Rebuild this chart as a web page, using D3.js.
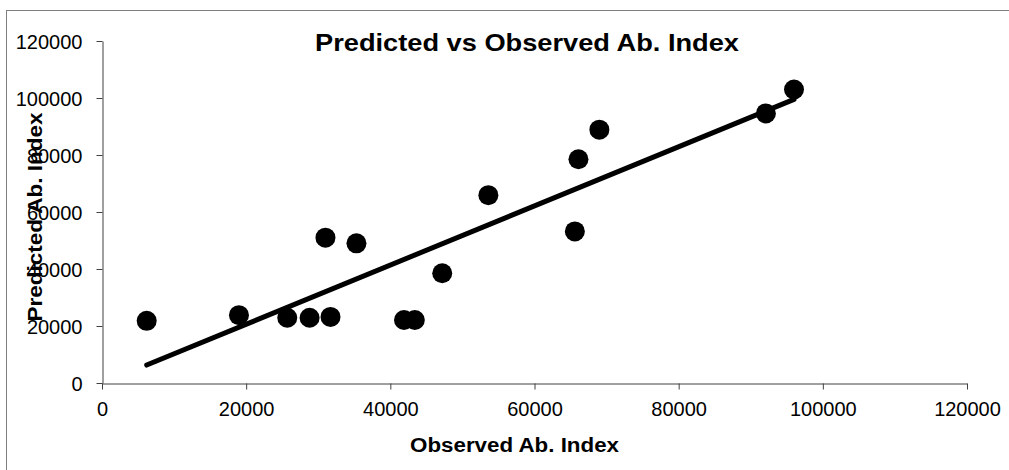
<!DOCTYPE html>
<html>
<head>
<meta charset="utf-8">
<script src="https://cdn.jsdelivr.net/npm/d3@7"></script>
<style>
    body { margin: 0; background: #fff; }
    svg { display: block; font-family: "Liberation Sans", Arial, sans-serif; }
</style>
</head>
<body>
<svg id="chart" width="1009" height="470"></svg>
<script>
const width = 1009;
const height = 470;

// observed vs predicted values
const observed = [6200, 19000, 25700, 28800, 31700, 31000, 35300, 41900, 43400, 47200, 53600, 65600, 66100, 69000, 92100, 96000];
const predicted = [21800, 23800, 22900, 22900, 23200, 51000, 49000, 22100, 22100, 38500, 65900, 53200, 78500, 88900, 94600, 103000];

// trend line end points
const trendX = [6200, 96000];
const trendY = [6300, 99500];

const xTicks = [0, 20000, 40000, 60000, 80000, 100000, 120000];
const yTicks = [0, 20000, 40000, 60000, 80000, 100000, 120000];

const svg = d3.select("#chart");

const xScale = d3.scaleLinear().domain([0, 120000]).range([102, 967]);
const yScale = d3.scaleLinear().domain([0, 120000]).range([383, 41]);

// outer chart border, runs off the right and bottom edges
svg.append("rect")
    .attr("x", 6.5)
    .attr("y", 10.5)
    .attr("width", 1020)
    .attr("height", 480)
    .attr("fill", "none")
    .attr("stroke", "#7f7f7f")
    .attr("stroke-width", 1);

const xAxis = d3.axisBottom(xScale)
    .tickValues(xTicks)
    .tickSizeInner(6)
    .tickSizeOuter(0)
    .tickPadding(12)
    .tickFormat(d3.format("d"));

const yAxis = d3.axisLeft(yScale)
    .tickValues(yTicks)
    .tickSizeInner(6)
    .tickSizeOuter(0)
    .tickPadding(14)
    .tickFormat(d3.format("d"));

const gx = svg.append("g")
    .attr("transform", "translate(0,383.5)")
    .call(xAxis);

const gy = svg.append("g")
    .attr("transform", "translate(102.5,0)")
    .call(yAxis);

[gx, gy].forEach(function (g) {
    g.selectAll("path, line").attr("stroke", "#404040");
    g.selectAll("text")
        .attr("fill", "#000")
        .style("font-size", "20px")
        .style("font-family", "'Liberation Sans', Arial, sans-serif");
});
gy.selectAll("text").attr("dy", "0.35em");

// trend line
const trend = trendX.map(function (d, i) { return [d, trendY[i]]; });
svg.append("path")
    .datum(trend)
    .attr("d", d3.line()
        .x(function (d) { return xScale(d[0]); })
        .y(function (d) { return yScale(d[1]); }))
    .attr("stroke", "#000")
    .attr("stroke-width", 5)
    .attr("stroke-linecap", "round")
    .attr("fill", "none");

// points
svg.selectAll("circle.pt").data(observed).enter()
    .append("circle")
    .attr("class", "pt")
    .attr("cx", function (d) { return xScale(d); })
    .attr("cy", function (d, i) { return yScale(predicted[i]); })
    .attr("r", 10)
    .attr("fill", "#000");

// title
svg.append("text")
    .attr("x", 527)
    .attr("y", 51)
    .attr("text-anchor", "middle")
    .attr("textLength", 424)
    .attr("lengthAdjust", "spacingAndGlyphs")
    .style("font-size", "24px")
    .style("font-weight", "bold")
    .text("Predicted vs Observed Ab. Index");

// x axis title
svg.append("text")
    .attr("x", 514.5)
    .attr("y", 452)
    .attr("text-anchor", "middle")
    .attr("textLength", 209)
    .attr("lengthAdjust", "spacingAndGlyphs")
    .style("font-size", "20px")
    .style("font-weight", "bold")
    .text("Observed Ab. Index");

// y axis title
svg.append("text")
    .attr("transform", "translate(41.5,217) rotate(-90)")
    .attr("text-anchor", "middle")
    .attr("textLength", 209)
    .attr("lengthAdjust", "spacingAndGlyphs")
    .style("font-size", "20px")
    .style("font-weight", "bold")
    .text("Predicted Ab. Index");
</script>
</body>
</html>
